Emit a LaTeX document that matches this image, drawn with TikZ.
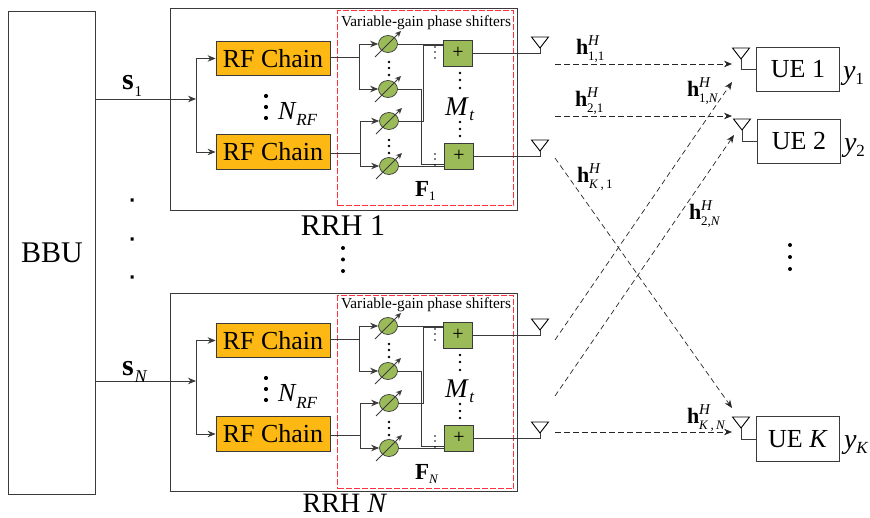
\documentclass[tikz,border=0pt]{standalone}
\usepackage{fontspec}
\setmainfont{Liberation Serif}
\usetikzlibrary{arrows.meta,shapes.geometric}
\definecolor{rfor}{HTML}{FDB813}
\definecolor{grn}{HTML}{9BBB59}
\definecolor{lne}{HTML}{3A3A3A}
\definecolor{redd}{HTML}{FF3040}
\newcommand{\fs}[1]{\fontsize{#1}{#1}\selectfont}
\newcommand{\hlab}[3]{{\fs{22}\bfseries h}\rlap{\raisebox{9pt}{\fs{15}\itshape H}}\raisebox{-6pt}{\fs{13}\textit{#2}\,,\,#3}}
\newcommand{\hlabn}[2]{{\fs{22}\bfseries h}\rlap{\raisebox{9pt}{\fs{15}\itshape H}}\raisebox{-6pt}{\fs{13}#1,#2}}
\tikzset{
  ln/.style={draw=lne,line width=0.8pt},
  arr/.style={ln,-{Stealth[length=8pt,width=6.5pt]}},
  tiny arr/.style={ln,line width=0.9pt,-{Stealth[length=6pt,width=5.5pt]}},
  chan/.style={draw=black!85,line width=0.7pt,dash pattern=on 5.5pt off 3.5pt,-{Stealth[length=8pt,width=6.5pt]}},
  rfbox/.style={draw=lne,line width=0.8pt,fill=rfor,minimum width=114pt,minimum height=34.5pt,inner sep=0pt,font=\fs{26}},
  ps/.style={ellipse,draw=lne,line width=0.7pt,fill=grn,minimum width=19pt,minimum height=17pt,inner sep=0pt},
  adder/.style={draw=lne,line width=0.7pt,fill=grn,minimum width=29.5pt,minimum height=26pt,inner sep=0pt,font=\fs{20}},
  frame/.style={draw=lne,line width=0.9pt,inner sep=0pt},
  uebox/.style={frame,minimum width=83pt,minimum height=44pt,font=\fs{26}},
  txt/.style={inner sep=0pt,outer sep=0pt},
}
\newcommand{\ant}[3]{%
  \coordinate (#1) at (#2,#3);
  \draw[draw=black,line width=0.9pt,line join=miter] ([shift={(-8.5,-11)}]#1) -- ([shift={(8.5,-11)}]#1) -- (#1) -- cycle;}
\newcommand{\shifter}[3]{%
  \node[ps] (#1) at (#2,#3) {};
  \draw[tiny arr] ([shift={(-13,13)}]#1.center) -- ([shift={(13,-13)}]#1.center);}
\newcommand{\vdotsat}[4]{%
  \fill[black] (#1,#2) circle (1.3pt) (#1,#3) circle (1.3pt) (#1,#4) circle (1.3pt);}
% prefix, label, F sub, frame top, frame height, red top, red height, label position
\newcommand{\rrh}[8]{%
  \node[frame,minimum width=347pt,minimum height=#5pt,anchor=north west] (#1box) at (170,#4) {};
  \node[draw=redd,line width=1.2pt,dash pattern=on 6pt off 2pt,minimum width=176pt,minimum height=#7pt,inner sep=0pt,anchor=north west] (#1grp) at (337,#6) {};
  \node[txt,font=\fs{15.3}] (#1vlab) at (426,23) {Variable-gain phase shifters};
  \node[rfbox] (#1rf1) at (273,58.5) {RF Chain};
  \node[rfbox] (#1rf2) at (273,152) {RF Chain};
  \node[txt,anchor=base west] (#1nrf) at (278,120) {{\fs{26}\itshape N}\hspace{1pt}\raisebox{-6pt}{\fs{17}\itshape RF}};
  \fill[black] (266,96) circle (2.1pt) (266,107) circle (2.1pt) (266,118) circle (2.1pt);
  \shifter{#1ps1}{388}{44}
  \shifter{#1ps2}{388}{89}
  \shifter{#1ps3}{389}{121}
  \shifter{#1ps4}{389}{166}
  \node[adder] (#1add1) at (458,53) {+};
  \node[adder] (#1add2) at (459,156) {+};
  \coordinate (#1j) at (196,99);
  \coordinate (#1b1) at (359,57);
  \coordinate (#1b2) at (360,153.5);
  \coordinate (#1r2) at (421,89);
  \coordinate (#1r3) at (423,121);
  \draw[arr] (#1j) |- (#1rf1.west);
  \draw[arr] (#1j) |- (#1rf2.west);
  \draw[ln] (#1rf1.east |- #1b1) -- (#1b1);
  \draw[ln] (#1rf2.east |- #1b2) -- (#1b2);
  \draw[arr] (#1b1) |- (#1ps1.west);
  \draw[arr] (#1b1) |- (#1ps2.west);
  \draw[arr] (#1b2) |- (#1ps3.west);
  \draw[arr] (#1b2) |- (#1ps4.west);
  \draw[ln] (#1ps1.east) -- (#1ps1.east -| #1add1.west);
  \draw[ln] (#1ps4.east) -- (#1ps4.east -| #1add2.west);
  \draw[ln] (#1ps2.east) -- (#1r2) |- ([yshift=-8pt]#1add2.west);
  \draw[ln] (#1ps3.east) -- (#1r3) |- ([yshift=8pt]#1add1.west);
  \ant{#1a1}{540}{48}
  \ant{#1a2}{540}{151}
  \draw[ln] (#1add1.east) -| (#1a1);
  \draw[ln] (#1add2.east) -| (#1a2);
  \vdotsat{389}{62}{68}{75}
  \vdotsat{389}{140}{146}{153}
  \vdotsat{460}{73}{80}{88}
  \vdotsat{460}{122}{129}{136}
  \fill[black] (435,47) circle (.9pt) (435,52) circle (.9pt) (435,58) circle (.9pt);
  \fill[black] (435,154) circle (.9pt) (435,159) circle (.9pt) (435,165) circle (.9pt);
  \node[txt,anchor=base west] (#1mt) at (445,116) {{\fs{27}\itshape M}\hspace{2pt}\raisebox{-5pt}{\fs{17}\itshape t}};
  \node[txt,anchor=base west] (#1f) at (415,197) {{\fs{23}\bfseries F}\raisebox{-4pt}{\fs{13}#3}};
  \node[txt,anchor=base] (#1lab) at #8 {#2};
}
\begin{document}
\begin{tikzpicture}[x=1pt,y=-1pt]
\useasboundingbox (0,0) rectangle (870,518);
\node[frame,minimum width=87pt,minimum height=483pt,anchor=north west,font=\fs{30}] (bbu) at (8,11) {BBU};
\begin{scope}
  \rrh{a}{\fs{30}RRH 1}{1}{8}{202.5}{10}{195}{(343,236)}
\end{scope}
\begin{scope}[shift={(0,282)}]
  \rrh{b}{\fs{28}RRH \textit{N}}{\textit{N}}{11}{198}{13}{193}{(345,230)}
\end{scope}
\draw[arr] (bbu.east |- aj) -- (aj);
\draw[arr] (bbu.east |- bj) -- (bj);
\node[txt,anchor=base west] (s1) at (122,90) {{\fs{30}\bfseries s}\hspace{1pt}\raisebox{-7pt}{\fs{15}1}};
\node[txt,anchor=base west] (sn) at (122,376) {{\fs{30}\bfseries s}\hspace{1pt}\raisebox{-6pt}{\fs{18}\itshape N}};
\fill[black] (130.5,198.5) rectangle +(3.2,3.2) (130.5,237.5) rectangle +(3.2,3.2) (130.5,275.5) rectangle +(3.2,3.2);
\fill[black] (343,248) circle (2pt) (343,259.5) circle (2pt) (343,271) circle (2pt);
\fill[black] (790,245) circle (2pt) (790,257) circle (2pt) (790,269) circle (2pt);
\node[uebox,anchor=north west] (u1) at (756,47) {UE 1};
\node[uebox,anchor=north west] (u2) at (757,119) {UE 2};
\node[uebox,anchor=north west,minimum height=45pt] (uk) at (756,416) {UE \textit{K}};
\ant{ua1}{741}{59}
\ant{ua2}{742}{130}
\ant{uak}{741}{428}
\draw[ln] (ua1) |- (u1.west);
\draw[ln] (ua2) |- (u2.west);
\draw[ln] (uak) |- (uk.west);
\node[txt,anchor=base west] (y1) at (843,80) {{\fs{28}\itshape y}\raisebox{-5pt}{\fs{17}1}};
\node[txt,anchor=base west] (y2) at (844,152) {{\fs{28}\itshape y}\raisebox{-5pt}{\fs{17}2}};
\node[txt,anchor=base west] (yk) at (844,448) {{\fs{28}\itshape y}\raisebox{-5pt}{\fs{17}\itshape K}};
\coordinate (c11s) at (555,64);   \coordinate (c11e) at (732,64);
\coordinate (c21s) at (555,116);  \coordinate (c21e) at (732,116);
\coordinate (ck1s) at (555,158);  \coordinate (ck1e) at (732,408);
\coordinate (c1ns) at (555,340);  \coordinate (c1ne) at (732,82);
\coordinate (c2ns) at (555,396);  \coordinate (c2ne) at (734,135);
\coordinate (ckns) at (555,432);  \coordinate (ckne) at (732,432);
\draw[chan] (c11s) -- (c11e);
\draw[chan] (c21s) -- (c21e);
\draw[chan] (ck1s) -- (ck1e);
\draw[chan] (c1ns) -- (c1ne);
\draw[chan] (c2ns) -- (c2ne);
\draw[chan] (ckns) -- (ckne);
\node[txt,anchor=base west] (h11) at (576,55) {\hlabn{1}{1}};
\node[txt,anchor=base west] (h21) at (575,107) {\hlabn{2}{1}};
\node[txt,anchor=base west] (hk1) at (577,183) {\hlab{}{K}{1}};
\node[txt,anchor=base west] (h1n) at (687,97) {\hlabn{1}{\textit{N}}};
\node[txt,anchor=base west] (h2n) at (689,220) {\hlabn{2}{\textit{N}}};
\node[txt,anchor=base west] (hkn) at (687,423) {\hlab{}{K}{\textit{N}}};
\end{tikzpicture}
\end{document}
